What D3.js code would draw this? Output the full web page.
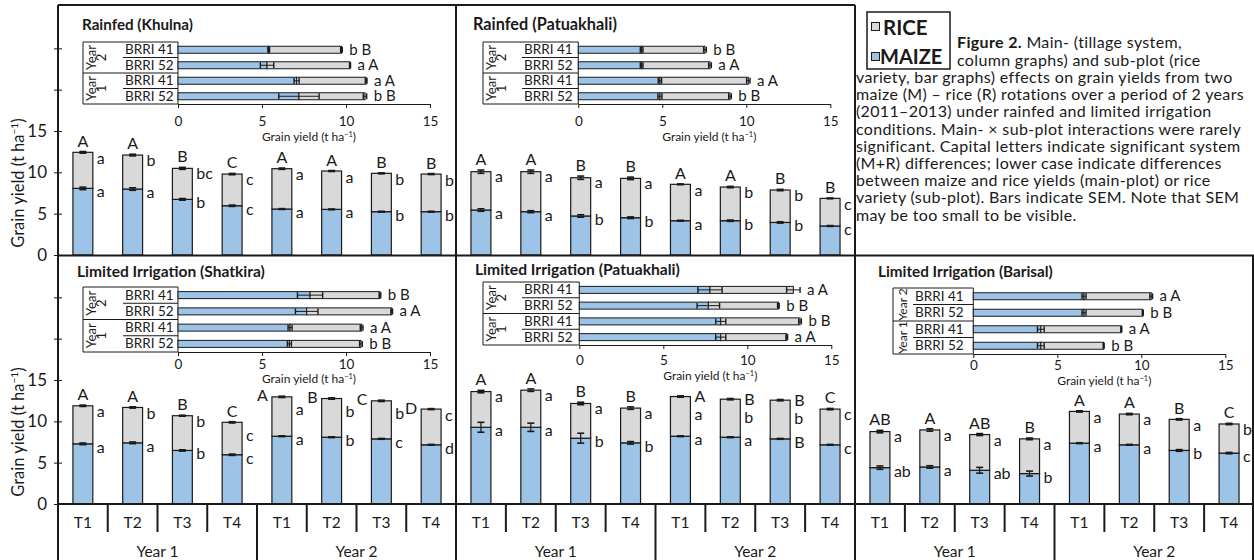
<!DOCTYPE html>
<html>
<head>
<meta charset="utf-8">
<script src="https://cdn.jsdelivr.net/npm/d3@7"></script>
<style>
  html, body { margin: 0; padding: 0; background: #fff; }
  svg { display: block; font-family: Lato, "Open Sans", sans-serif; }
</style>
</head>
<body>
<svg id="fig" width="1254" height="560"></svg>
<script>
// ---------- categories ----------
const treatments = ["T1", "T2", "T3", "T4"];
const years = ["Year 1", "Year 2"];
const varieties = ["BRRI 41", "BRRI 52"];
const columnTicks = [0, 5, 10, 15, 20, 25];
const columnTickLabels = [0, 5, 10, 15];
const barTicks = [0, 5, 10, 15];

// ---------- column graphs: T1..T4 of Year 1, then T1..T4 of Year 2 (t/ha) ----------
// Rainfed (Khulna)
const khulnaMaize = [8.06, 7.98, 6.73, 5.96, 5.56, 5.52, 5.24, 5.24];
const khulnaSystem = [12.42, 12.09, 10.48, 9.79, 10.44, 10.16, 9.88, 9.79];
const khulnaMaizeSem = [0.15, 0.15, 0.1, 0.08, 0.05, 0.05, 0.05, 0.05];
const khulnaSystemSem = [0.1, 0.1, 0.12, 0.08, 0.08, 0.06, 0.06, 0.06];
const khulnaSystemLetters = ["A", "A", "B", "C", "A", "A", "B", "B"];
const khulnaRiceLetters = ["a", "b", "bc", "c", "a", "a", "b", "b"];
const khulnaMaizeLetters = ["a", "a", "b", "c", "a", "a", "b", "b"];

// Rainfed (Patuakhali)
const patuaRfMaize = [5.44, 5.24, 4.72, 4.51, 4.15, 4.15, 3.94, 3.51];
const patuaRfSystem = [10.08, 10.08, 9.35, 9.27, 8.55, 8.22, 7.86, 6.85];
const patuaRfMaizeSem = [0.15, 0.12, 0.15, 0.1, 0.05, 0.08, 0.08, 0.05];
const patuaRfSystemSem = [0.2, 0.2, 0.2, 0.15, 0.05, 0.08, 0.08, 0.05];
const patuaRfSystemLetters = ["A", "A", "B", "B", "A", "A", "B", "B"];
const patuaRfRiceLetters = ["a", "a", "a", "a", "a", "b", "b", "c"];
const patuaRfMaizeLetters = ["a", "a", "b", "b", "a", "b", "b", "c"];

// Limited irrigation (Shatkira)
const shatMaize = [7.28, 7.4, 6.48, 5.96, 8.2, 8.08, 7.88, 7.16];
const shatSystem = [11.88, 11.68, 10.68, 9.88, 12.96, 12.76, 12.48, 11.48];
const shatMaizeSem = [0.1, 0.1, 0.08, 0.08, 0.05, 0.05, 0.05, 0.05];
const shatSystemSem = [0.08, 0.08, 0.06, 0.08, 0.08, 0.08, 0.08, 0.06];
const shatSystemLetters = ["A", "A", "B", "C", "A", "B", "C", "D"];
const shatRiceLetters = ["a", "b", "b", "c", "a", "b", "b", "c"];
const shatMaizeLetters = ["a", "a", "b", "c", "a", "b", "c", "d"];

// Limited irrigation (Patuakhali)
const patuaLiMaize = [9.28, 9.28, 7.96, 7.4, 8.2, 8.08, 7.88, 7.16];
const patuaLiSystem = [13.6, 13.77, 12.16, 11.6, 13.0, 12.68, 12.56, 11.48];
const patuaLiMaizeSem = [0.6, 0.5, 0.6, 0.15, 0.05, 0.05, 0.05, 0.05];
const patuaLiSystemSem = [0.15, 0.15, 0.15, 0.15, 0.08, 0.08, 0.08, 0.08];
const patuaLiSystemLetters = ["A", "A", "B", "B", "A", "B", "B", "C"];
const patuaLiRiceLetters = ["a", "a", "a", "a", "a", "b", "b", "c"];
const patuaLiMaizeLetters = ["a", "a", "b", "b", "a", "a", "B", "c"];

// Limited irrigation (Barisal)
const barisalMaize = [4.4, 4.48, 4.08, 3.68, 7.36, 7.16, 6.48, 6.16];
const barisalSystem = [8.76, 8.96, 8.4, 7.88, 11.2, 10.88, 10.24, 9.68];
const barisalMaizeSem = [0.2, 0.15, 0.35, 0.3, 0.05, 0.05, 0.1, 0.08];
const barisalSystemSem = [0.15, 0.15, 0.12, 0.1, 0.08, 0.08, 0.08, 0.08];
const barisalSystemLetters = ["AB", "A", "AB", "B", "A", "A", "B", "C"];
const barisalRiceLetters = ["a", "a", "a", "a", "a", "a", "a", "b"];
const barisalMaizeLetters = ["ab", "a", "ab", "b", "a", "a", "b", "c"];

// ---------- bar graphs (sub plot): rows Year 2 BRRI 41, Year 2 BRRI 52, Year 1 BRRI 41, Year 1 BRRI 52 ----------
const khulnaVarMaize = [5.4, 5.3, 7.06, 7.2];
const khulnaVarSystem = [9.73, 10.24, 11.2, 11.13];
const khulnaVarMaizeSem = [0.05, 0.4, 0.15, 1.2];
const khulnaVarSystemSem = [0.05, 0.03, 0.05, 0.1];
const khulnaVarLetters = ["b B", "a A", "a A", "b B"];

const patuaRfVarMaize = [3.77, 3.77, 4.86, 4.86];
const patuaRfVarSystem = [7.54, 7.84, 10.12, 9.03];
const patuaRfVarMaizeSem = [0.08, 0.08, 0.1, 0.12];
const patuaRfVarSystemSem = [0.08, 0.08, 0.1, 0.08];
const patuaRfVarLetters = ["b B", "a A", "a A", "b B"];

const shatVarMaize = [7.86, 7.66, 6.67, 6.63];
const shatVarSystem = [12.02, 12.72, 10.93, 10.89];
const shatVarMaizeSem = [0.75, 0.67, 0.12, 0.12];
const shatVarSystemSem = [0.05, 0.05, 0.08, 0.08];
const shatVarLetters = ["b B", "a A", "a A", "b B"];

const patuaLiVarMaize = [7.78, 7.68, 8.42, 8.42];
const patuaLiVarSystem = [12.74, 11.85, 13.14, 12.35];
const patuaLiVarMaizeSem = [0.72, 0.67, 0.3, 0.3];
const patuaLiVarSystemSem = [0.4, 0.05, 0.08, 0.05];
const patuaLiVarLetters = ["a A", "b B", "b B", "a A"];

const barisalVarMaize = [6.59, 6.59, 4.02, 4.02];
const barisalVarSystem = [10.59, 10.09, 8.81, 7.76];
const barisalVarMaizeSem = [0.12, 0.12, 0.2, 0.2];
const barisalVarSystemSem = [0.08, 0.03, 0.03, 0.03];
const barisalVarLetters = ["a A", "b B", "a A", "b B"];

// ---------- styles ----------
const maizeFill = "#9dc3e6";
const riceFill = "#d9d9d9";
const ink = "#1a1a1a";
const fontStack = "Lato, 'Open Sans', sans-serif";

const svg = d3.select("#fig");

// ---------- panel layout ----------
const rows = [{ y0: 255, yTop: 7 }, { y0: 504, yTop: 256 }];

const columnPanels = [
  { row: 0, x0: 58, x1: 456, maize: khulnaMaize, system: khulnaSystem, mSem: khulnaMaizeSem, sSem: khulnaSystemSem,
    sys: khulnaSystemLetters, rice: khulnaRiceLetters, mz: khulnaMaizeLetters,
    capMode: ["top","top","top","top","top","top","top","top"] },
  { row: 0, x0: 456, x1: 855, maize: patuaRfMaize, system: patuaRfSystem, mSem: patuaRfMaizeSem, sSem: patuaRfSystemSem,
    sys: patuaRfSystemLetters, rice: patuaRfRiceLetters, mz: patuaRfMaizeLetters,
    capMode: ["top","top","top","top","top","top","top","top"] },
  { row: 1, x0: 58, x1: 456, maize: shatMaize, system: shatSystem, mSem: shatMaizeSem, sSem: shatSystemSem,
    sys: shatSystemLetters, rice: shatRiceLetters, mz: shatMaizeLetters,
    capMode: ["top","top","top","top","left","left","left","left"] },
  { row: 1, x0: 456, x1: 855, maize: patuaLiMaize, system: patuaLiSystem, mSem: patuaLiMaizeSem, sSem: patuaLiSystemSem,
    sys: patuaLiSystemLetters, rice: patuaLiRiceLetters, mz: patuaLiMaizeLetters,
    capMode: ["top","top","top","top","right","right","right","top"] },
  { row: 1, x0: 855, x1: 1254, maize: barisalMaize, system: barisalSystem, mSem: barisalMaizeSem, sSem: barisalSystemSem,
    sys: barisalSystemLetters, rice: barisalRiceLetters, mz: barisalMaizeLetters,
    capMode: ["top","top","top","top","top","top","top","top"] }
];

const insets = [
  { title: "Rainfed (Khulna)", titleX: 82, titleY: 30, titleW: 111, tableLeft: 83, varLeft: 123, ax: 178, top: 42, rowH: 15.5,
    tickY: 126, axisTitleY: 141, yearStyle: "double",
    maize: khulnaVarMaize, system: khulnaVarSystem, mSem: khulnaVarMaizeSem, sSem: khulnaVarSystemSem, letters: khulnaVarLetters },
  { title: "Rainfed (Patuakhali)", titleX: 473, titleY: 30, titleW: 144, tableLeft: 483, varLeft: 522, ax: 578.3, top: 42, rowH: 15.5,
    tickY: 126, axisTitleY: 141, yearStyle: "double",
    maize: patuaRfVarMaize, system: patuaRfVarSystem, mSem: patuaRfVarMaizeSem, sSem: patuaRfVarSystemSem, letters: patuaRfVarLetters },
  { title: "Limited Irrigation (Shatkira)", titleX: 77, titleY: 277, titleW: 188, tableLeft: 83, varLeft: 123, ax: 178, top: 287, rowH: 16.25,
    tickY: 368.5, axisTitleY: 383, yearStyle: "double",
    maize: shatVarMaize, system: shatVarSystem, mSem: shatVarMaizeSem, sSem: shatVarSystemSem, letters: shatVarLetters },
  { title: "Limited Irrigation (Patuakhali)", titleX: 475, titleY: 275, titleW: 205, tableLeft: 483, varLeft: 522, ax: 579.3, top: 282, rowH: 15.75,
    tickY: 365, axisTitleY: 380, yearStyle: "double",
    maize: patuaLiVarMaize, system: patuaLiVarSystem, mSem: patuaLiVarMaizeSem, sSem: patuaLiVarSystemSem, letters: patuaLiVarLetters },
  { title: "Limited Irrigation (Barisal)", titleX: 878, titleY: 277, titleW: 175, tableLeft: 893, varLeft: 913, ax: 973.3, top: 288, rowH: 16.5,
    tickY: 370, axisTitleY: 385, yearStyle: "single",
    maize: barisalVarMaize, system: barisalVarSystem, mSem: barisalVarMaizeSem, sSem: barisalVarSystemSem, letters: barisalVarLetters }
];

const barUnit = 16.8; // px per t/ha on the bar-graph axes

// ---------- helpers ----------
function line(g, x1, y1, x2, y2, w, color) {
  return g.append("line").attr("x1", x1).attr("y1", y1).attr("x2", x2).attr("y2", y2)
    .attr("stroke", color || ink).attr("stroke-width", w || 1);
}
function label(g, x, y, txt, size, anchor, weight) {
  return g.append("text").attr("x", x).attr("y", y).attr("font-size", size)
    .attr("text-anchor", anchor || "start").attr("font-weight", weight || "normal")
    .attr("fill", ink).text(txt);
}
// scale a text's font size so that its rendered width equals `target`
function fitWidth(sel, target, lo, hi) {
  const w = sel.node().getComputedTextLength();
  const fs = parseFloat(sel.attr("font-size"));
  if (w > 0) sel.attr("font-size", Math.max(lo, Math.min(hi, fs * target / w)));
  return sel;
}
// "Grain yield (t ha-1)" with a raised exponent drawn as its own text
function yieldTitle(g, cx, y, size) {
  const main = g.append("text").attr("y", y).attr("font-size", size).attr("fill", ink).text("Grain yield (t ha");
  const sup = g.append("text").attr("y", y - size * 0.36).attr("font-size", size * 0.62).attr("fill", ink).text("\u22121");
  const close = g.append("text").attr("y", y).attr("font-size", size).attr("fill", ink).text(")");
  const w1 = main.node().getComputedTextLength(), w2 = sup.node().getComputedTextLength(), w3 = close.node().getComputedTextLength();
  const x0 = cx - (w1 + w2 + w3) / 2;
  main.attr("x", x0); sup.attr("x", x0 + w1); close.attr("x", x0 + w1 + w2);
}

// ---------- column graphs ----------
columnPanels.forEach(p => {
  const r = rows[p.row];
  const y = d3.scaleLinear().domain([0, 30]).range([r.y0, r.yTop]);
  const x = d3.scaleBand().domain(d3.range(8)).range([p.x0, p.x1]).paddingInner(0.6).paddingOuter(0.3);
  const bw = x.bandwidth();
  const g = svg.append("g");

  d3.range(8).forEach(i => {
    const left = x(i);
    const m = p.maize[i], s = p.system[i];
    g.append("rect").attr("x", left).attr("y", y(m)).attr("width", bw).attr("height", y(0) - y(m))
      .attr("fill", maizeFill).attr("stroke", ink).attr("stroke-width", 1.2);
    g.append("rect").attr("x", left).attr("y", y(s)).attr("width", bw).attr("height", y(m) - y(s))
      .attr("fill", riceFill).attr("stroke", ink).attr("stroke-width", 1.2);
  });

  // error bars (SEM)
  d3.range(8).forEach(i => {
    const cx = x(i) + bw / 2;
    [[p.maize[i], p.mSem[i]], [p.system[i], p.sSem[i]]].forEach(([v, e]) => {
      line(g, cx, y(v - e), cx, y(v + e), 1.2);
      line(g, cx - 3.5, y(v - e), cx + 3.5, y(v - e), 1.6);
      line(g, cx - 3.5, y(v + e), cx + 3.5, y(v + e), 1.6);
    });
  });

  // significance letters
  d3.range(8).forEach(i => {
    const left = x(i), right = left + bw, cx = left + bw / 2;
    const yT = y(p.system[i] + p.sSem[i]);
    const yM = y(p.maize[i]);
    const mode = p.capMode[i];
    const nextLeft = i < 7 && p.capMode[i + 1] === "left";
    if (mode === "top") label(g, cx, yT - 5, p.sys[i], 16, "middle");
    else if (mode === "left") label(g, left - 4, yT + 5, p.sys[i], 16, "end");
    else label(g, right + 4, yT + 6, p.sys[i], 16, "start");
    const riceDy = mode === "right" ? 24 : (nextLeft ? 19 : 12);
    label(g, right + 4, yT + riceDy, p.rice[i], 16);
    label(g, right + 4, Math.max(yM + 9, yT + riceDy + 16), p.mz[i], 16);
  });

  // treatment and year labels (bottom row only)
  if (p.row === 1) {
    const step = x.step();
    d3.range(8).forEach(i => label(g, x(i) + bw / 2, 528, treatments[i % 4], 15.5, "middle"));
    years.forEach((yr, k) => label(g, p.x0 + step * (4 * k + 2), 557, yr, 15.5, "middle"));
    d3.range(1, 8).forEach(k => {
      const sx = p.x0 + step * k;
      line(g, sx, 504, sx, k === 4 ? 560 : 532, 2);
    });
  }
});

// ---------- y axes ----------
rows.forEach(r => {
  const y = d3.scaleLinear().domain([0, 30]).range([r.y0, r.yTop]);
  const ax = svg.append("g").attr("transform", "translate(58,0)")
    .call(d3.axisLeft(y).tickValues(columnTicks)
      .tickFormat(d => columnTickLabels.includes(d) ? d : "")
      .tickSizeInner(4).tickSizeOuter(0).tickPadding(7));
  ax.select(".domain").remove();
  ax.selectAll(".tick line").attr("x1", -4).attr("x2", 4).attr("stroke", ink).attr("stroke-width", 1);
  ax.selectAll(".tick text").attr("font-size", 17).attr("font-family", fontStack).attr("fill", ink);
  const cy = (y(0) + y(15)) / 2 - 10;
  const g = svg.append("g").attr("transform", `translate(24,${cy}) rotate(-90)`);
  yieldTitle(g, 0, 0, 16.5);
});

// ---------- bar graphs (rice variety) ----------
insets.forEach(p => {
  const g = svg.append("g");
  const xs = d3.scaleLinear().domain([0, 15]).range([p.ax, p.ax + 15 * barUnit]);
  const rowY = i => p.top + p.rowH * (i + 0.5);
  const bottom = p.top + 4 * p.rowH;

  fitWidth(label(g, p.titleX, p.titleY, p.title, 15.5, "start", "bold"), p.titleW, 13, 17);

  // table rules
  line(g, p.tableLeft, p.top, p.ax, p.top, 1);
  line(g, p.varLeft, p.top + p.rowH, p.ax, p.top + p.rowH, 1);
  line(g, p.tableLeft, p.top + 2 * p.rowH, p.ax, p.top + 2 * p.rowH, 1);
  line(g, p.varLeft, p.top + 3 * p.rowH, p.ax, p.top + 3 * p.rowH, 1);
  line(g, p.tableLeft, p.top, p.tableLeft, bottom, 1);
  line(g, p.ax, p.top, p.ax, bottom, 1);
  line(g, p.tableLeft, bottom, p.ax, bottom, 1);

  // x axis
  const axis = g.append("g").attr("transform", `translate(0,${bottom})`)
    .call(d3.axisBottom(xs).tickValues(barTicks).tickSizeInner(4).tickSizeOuter(0));
  axis.select(".domain").attr("stroke", ink).attr("stroke-width", 1);
  axis.selectAll(".tick line").attr("stroke", ink);
  axis.selectAll(".tick text").attr("font-size", 13.5).attr("font-family", fontStack).attr("fill", ink)
    .attr("dy", null).attr("y", p.tickY - bottom);
  yieldTitle(g, (xs(0) + xs(15)) / 2 + 5, p.axisTitleY, 12);

  // row labels
  d3.range(4).forEach(i => label(g, p.varLeft + 2, rowY(i) + 4.5, varieties[i % 2], 13.5));
  [["Year 2", 0], ["Year 1", 2]].forEach(([yr, r0]) => {
    const cy = p.top + p.rowH * (r0 + 1);
    if (p.yearStyle === "double") {
      const parts = yr.split(" ");
      [[parts[0], 8], [parts[1], 18]].forEach(([txt, dx]) => {
        g.append("text").attr("transform", `translate(${p.tableLeft + dx},${cy}) rotate(-90)`)
          .attr("text-anchor", "middle").attr("dominant-baseline", "central")
          .attr("font-size", 13).attr("fill", ink).text(txt);
      });
    } else {
      g.append("text").attr("transform", `translate(${p.tableLeft + 9},${cy}) rotate(-90)`)
        .attr("text-anchor", "middle").attr("dominant-baseline", "central")
        .attr("font-size", 12).attr("fill", ink).text(yr);
    }
  });

  // stacked bars
  const bh = 7;
  d3.range(4).forEach(i => {
    const cy = rowY(i), m = p.maize[i], s = p.system[i];
    g.append("rect").attr("x", xs(0)).attr("y", cy - bh / 2).attr("width", xs(m) - xs(0)).attr("height", bh)
      .attr("fill", maizeFill).attr("stroke", ink).attr("stroke-width", 1);
    g.append("rect").attr("x", xs(m)).attr("y", cy - bh / 2).attr("width", xs(s) - xs(m)).attr("height", bh)
      .attr("fill", riceFill).attr("stroke", ink).attr("stroke-width", 1);
    [[m, p.mSem[i]], [s, p.sSem[i]]].forEach(([v, e]) => {
      line(g, xs(v - e), cy, xs(v + e), cy, 1);
      line(g, xs(v - e), cy - 3, xs(v - e), cy + 3, 1.4);
      line(g, xs(v + e), cy - 3, xs(v + e), cy + 3, 1.4);
    });
    label(g, xs(s + p.sSem[i]) + 7, cy + 5, p.letters[i], 15);
  });
});

// ---------- frame ----------
const frame = svg.append("g");
line(frame, 58, 5, 855, 5, 2);
line(frame, 58, 5, 58, 560, 2);
line(frame, 456, 5, 456, 560, 2);
line(frame, 855, 5, 855, 560, 2);
line(frame, 58, 255.5, 1254, 255.5, 2.2);
line(frame, 58, 504, 1254, 504, 2.2);
line(frame, 1253, 255, 1253, 560, 2);

// ---------- legend ----------
const lg = svg.append("g");
lg.append("rect").attr("x", 867).attr("y", 12).attr("width", 83).attr("height", 57)
  .attr("fill", "#fff").attr("stroke", ink).attr("stroke-width", 1.5);
lg.append("rect").attr("x", 871.5).attr("y", 22.5).attr("width", 8).attr("height", 8)
  .attr("fill", riceFill).attr("stroke", ink).attr("stroke-width", 1);
lg.append("rect").attr("x", 871.5).attr("y", 52.5).attr("width", 8).attr("height", 8)
  .attr("fill", maizeFill).attr("stroke", ink).attr("stroke-width", 1);
label(lg, 883, 35, "RICE", 20.5, "start", "bold");
label(lg, 880, 64, "MAIZE", 20, "start", "bold");

// ---------- caption ----------
const captionLines = [
  "column graphs) and sub-plot (rice",
  "variety, bar graphs) effects on grain yields from two",
  "maize (M) \u2013 rice (R) rotations over a period of 2 years",
  "(2011\u20132013) under rainfed and limited irrigation",
  "conditions. Main- \u00d7 sub-plot interactions were rarely",
  "significant. Capital letters indicate significant system",
  "(M+R) differences; lower case indicate differences",
  "between maize and rice yields (main-plot) or rice",
  "variety (sub-plot). Bars indicate SEM. Note that SEM",
  "may be too small to be visible."
];
const capSize = 16;
const cap = svg.append("g").attr("fill", ink);
const capTexts = [];
const first = cap.append("text").attr("x", 957).attr("y", 48).attr("font-size", capSize);
first.append("tspan").attr("font-weight", "bold").text("Figure 2.");
first.append("tspan").text(" Main- (tillage system,");
capTexts.push(first);
captionLines.forEach((t, i) => {
  capTexts.push(cap.append("text").attr("x", i === 0 ? 957 : 856).attr("y", 48.5 + 17.2 * (i + 1))
    .attr("font-size", capSize).text(t));
});
// widen the tracking so the full-width caption line spans the text block
const refLine = capTexts[2];
const capW = refLine.node().getComputedTextLength();
const nChars = captionLines[1].length;
const tracking = Math.max(0, Math.min(1, (376 - capW) / nChars));
capTexts.forEach(t => t.attr("letter-spacing", tracking));
</script>
</body>
</html>
